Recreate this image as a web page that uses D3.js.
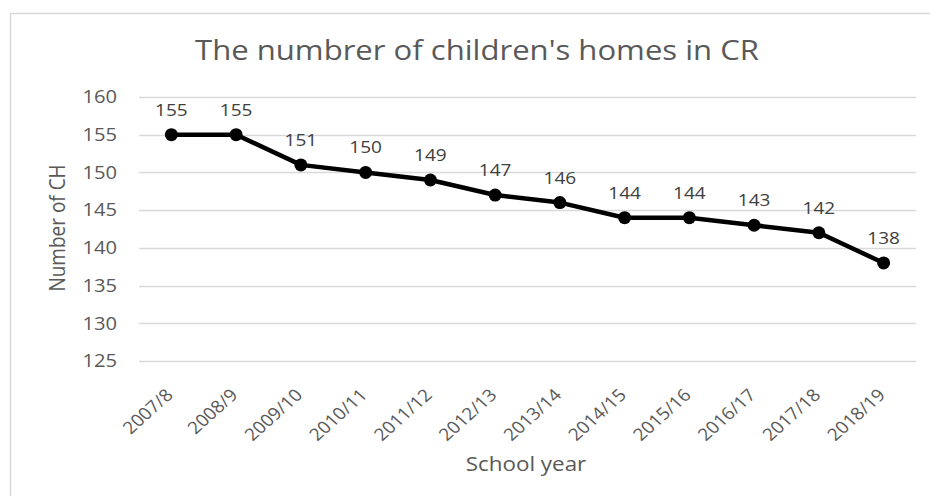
<!DOCTYPE html>
<html>
<head>
<meta charset="utf-8">
<script src="https://cdn.jsdelivr.net/npm/d3@7"></script>
<style>
  body { margin: 0; background: #fff; }
  text { font-family: "Open Sans", "Liberation Sans", sans-serif; }
</style>
</head>
<body>
<div id="chart"></div>
<script>
const years = ['2007/8', '2008/9', '2009/10', '2010/11', '2011/12', '2012/13',
  '2013/14', '2014/15', '2015/16', '2016/17', '2017/18', '2018/19'];
const homes = [155, 155, 151, 150, 149, 147, 146, 144, 144, 143, 142, 138];
const yTicks = [125, 130, 135, 140, 145, 150, 155, 160];

const width = 930;
const height = 496;
const margin = {top: 97, right: 14, bottom: 135, left: 139};
// the picture is a bit wider than tall, so text gets a horizontal stretch
const stretch = 1.12;

const svg = d3.select('#chart')
  .append('svg')
  .attr('width', width)
  .attr('height', height);

// outer chart frame
svg.append('rect')
  .attr('x', 10.5).attr('y', 13.5)
  .attr('width', 940).attr('height', 500)
  .attr('fill', 'none')
  .attr('stroke', '#d9d9d9')
  .attr('stroke-width', 1.5);

const x = d3.scaleBand()
  .domain(years)
  .range([margin.left, width - margin.right]);

const y = d3.scaleLinear()
  .domain([125, 160])
  .range([height - margin.bottom, margin.top]);

const cx = (d, i) => x(years[i]) + x.bandwidth() / 2;

// gridlines
svg.append('g')
  .selectAll('line')
  .data(yTicks)
  .enter()
  .append('line')
  .attr('x1', margin.left)
  .attr('x2', width - margin.right)
  .attr('y1', d => Math.round(y(d)) + 0.5)
  .attr('y2', d => Math.round(y(d)) + 0.5)
  .attr('stroke', '#d9d9d9')
  .attr('stroke-width', 1.5);

// y axis labels
const yAxis = svg.append('g')
  .attr('transform', 'translate(' + margin.left + ',0)')
  .call(d3.axisLeft(y).tickValues(yTicks).tickSize(0));
yAxis.select('.domain').remove();
yAxis.selectAll('text')
  .attr('x', 0)
  .attr('transform', 'translate(-22,0) scale(' + stretch + ',1)')
  .style('font-size', '18px')
  .attr('fill', '#595959');

// x axis labels
const xAxis = svg.append('g')
  .attr('transform', 'translate(0,' + (height - margin.bottom) + ')')
  .call(d3.axisBottom(x).tickSize(0));
xAxis.select('.domain').remove();
xAxis.selectAll('text')
  .style('font-size', '17px')
  .attr('fill', '#595959')
  .attr('text-anchor', 'end')
  .attr('y', 0)
  .attr('dy', '0.35em')
  .attr('transform', 'translate(-2,31) scale(' + stretch + ',1) rotate(-45)');

// line
const line = d3.line()
  .x(cx)
  .y(d => y(d));

svg.append('path')
  .datum(homes)
  .attr('d', line)
  .attr('fill', 'none')
  .attr('stroke', '#000')
  .attr('stroke-width', 4.5)
  .attr('stroke-linejoin', 'round');

svg.append('g')
  .selectAll('circle')
  .data(homes)
  .enter()
  .append('circle')
  .attr('cx', cx)
  .attr('cy', d => y(d))
  .attr('r', 6.5)
  .attr('fill', '#000');

// data labels
svg.append('g')
  .selectAll('text')
  .data(homes)
  .enter()
  .append('text')
  .attr('transform', (d, i) => 'translate(' + cx(d, i) + ',' + (y(d) - 19) + ') scale(' + stretch + ',1)')
  .attr('text-anchor', 'middle')
  .style('font-size', '17px')
  .attr('fill', '#404040')
  .text(d => d);

// title
svg.append('text')
  .attr('transform', 'translate(477,60) scale(1.11,1)')
  .attr('text-anchor', 'middle')
  .style('font-size', '28px')
  .attr('fill', '#595959')
  .text("The numbrer of children's homes in CR");

// axis titles
svg.append('text')
  .attr('transform', 'translate(65,228) scale(' + stretch + ',1) rotate(-90)')
  .attr('text-anchor', 'middle')
  .style('font-size', '19px')
  .attr('fill', '#595959')
  .text('Number of CH');

svg.append('text')
  .attr('transform', 'translate(526,471) scale(' + stretch + ',1)')
  .attr('text-anchor', 'middle')
  .style('font-size', '20px')
  .attr('fill', '#595959')
  .text('School year');
</script>
</body>
</html>
